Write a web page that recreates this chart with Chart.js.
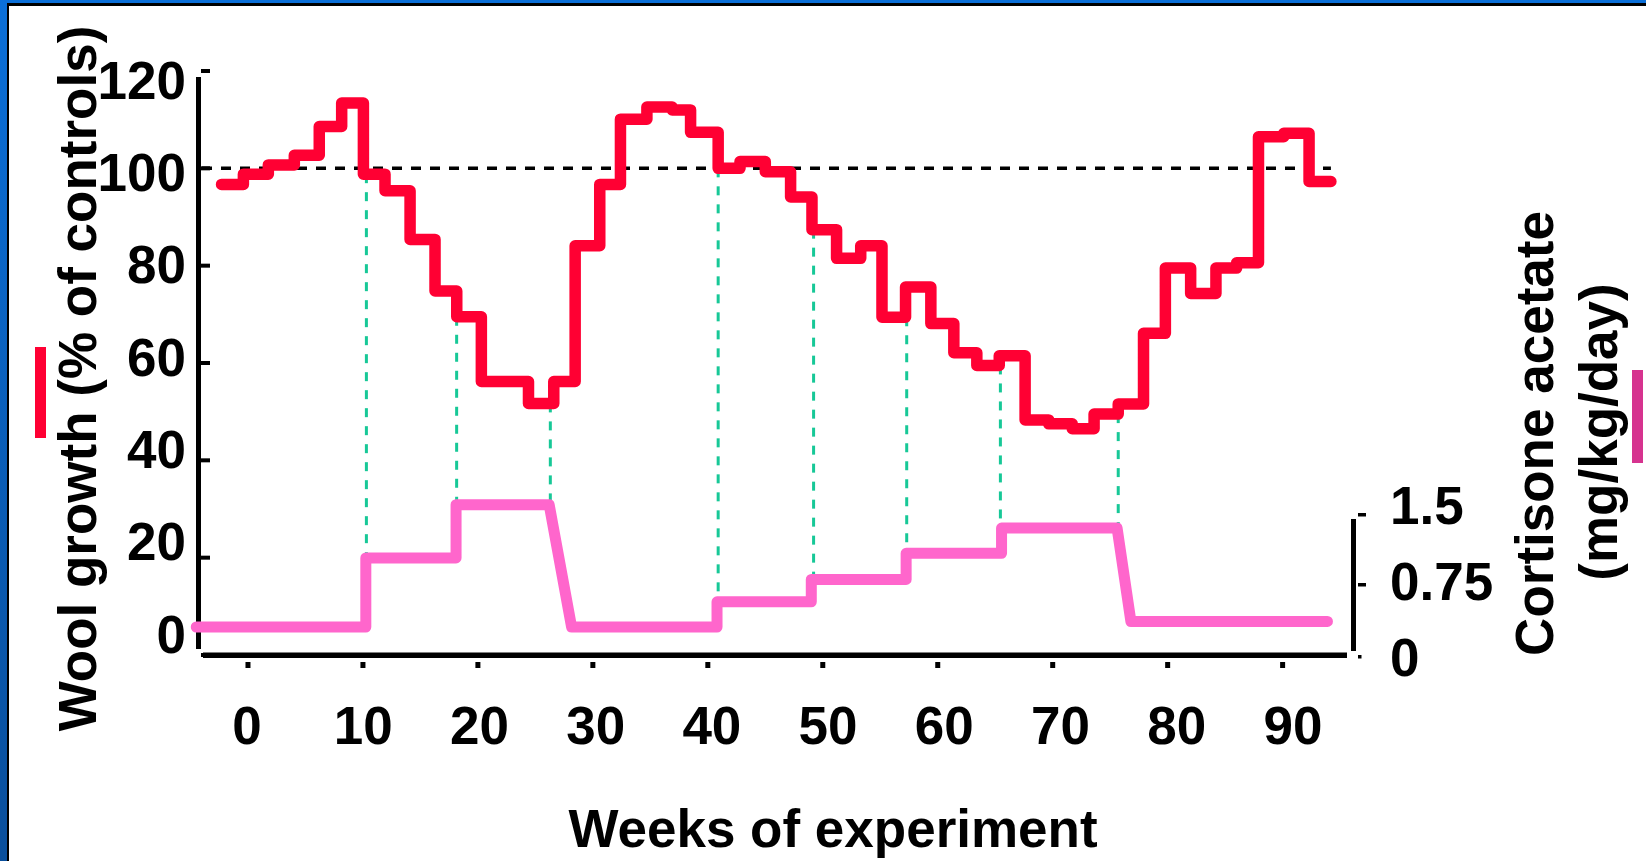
<!DOCTYPE html>
<html>
<head>
<meta charset="utf-8">
<script src="https://cdn.jsdelivr.net/npm/chart.js@4.4.1/dist/chart.umd.min.js"></script>
<style>
html,body{margin:0;padding:0;background:#fff;overflow:hidden}
canvas{display:block}
</style>
</head>
<body>
<canvas id="c" width="1646" height="861" style="width:1646px;height:861px"></canvas>
<script>
// ---------- data ----------
// Wool growth (% of controls): stepped line, value holds from its week until the next week
const redWeeks = [-2.3, -0.4, 1.77, 4.03, 6.2, 8.15, 10.04, 11.92, 14.1, 16.27, 18.16, 20.3, 24.4, 26.6, 28.46, 30.6, 32.4, 34.7, 36.9, 38.5, 40.9, 42.8, 45.0, 47.2, 49.06, 51.2, 53.3, 55.15, 57.2, 59.4, 61.4, 63.4, 65.35, 67.6, 69.65, 71.7, 73.6, 75.7, 77.9, 79.8, 82.0, 84.2, 86.0, 87.9, 90.1, 92.3, 94.2];
const redWool  = [96.7, 98.8, 100.7, 102.7, 108.6, 113.4, 98.8, 95.4, 85.4, 74.8, 69.5, 56.2, 51.7, 56.2, 84.1, 96.7, 110.1, 112.6, 112.0, 107.4, 100.0, 101.4, 99.3, 94.1, 87.4, 81.5, 84.1, 69.4, 75.6, 68.1, 62.1, 59.5, 61.5, 48.3, 47.5, 46.5, 49.5, 51.6, 66.1, 79.5, 74.3, 79.5, 80.6, 106.5, 107.2, 97.3, 97.3];

// Cortisone acetate dose (mg/kg/day)
const doseWeeks = [-4.5, 10.25, 10.25, 18.1, 18.1, 26.2, 28.15, 40.8, 40.8, 49.0, 49.0, 57.25, 57.25, 65.55, 65.55, 75.6, 76.8, 93.9];
const doseValues = [0.3, 0.3, 1.04, 1.04, 1.61, 1.61, 0.3, 0.3, 0.57, 0.57, 0.81, 0.81, 1.09, 1.09, 1.36, 1.36, 0.36, 0.36];

// control reference line (100 %)
const refWeeks = [-4, 94.2];
const refWool = [100, 100];

// dashed connectors between the two curves
const linkWeeks = [10.3, 18.15, 26.3, 40.9, 49.2, 57.3, 65.45, 75.7];
const linkWool  = [98.8, 69.5, 51.7, 100.0, 87.4, 69.4, 59.5, 49.5];
const linkDose  = [1.04, 1.61, 1.61, 0.57, 0.81, 1.09, 1.36, 1.36];

// ticks
const weekTicks = [0, 10, 20, 30, 40, 50, 60, 70, 80, 90];
const weekTickLabels = ['0', '10', '20', '30', '40', '50', '60', '70', '80', '90'];
const woolTicks = [0, 20, 40, 60, 80, 100, 120];
const woolTickLabels = ['0', '20', '40', '60', '80', '100', '120'];
const doseTicks = [0, 0.75, 1.5];
const doseTickLabels = ['0', '0.75', '1.5'];

// texts
const xTitle = 'Weeks of experiment';
const leftTitle = 'Wool growth (% of controls)';
const rightTitle1 = 'Cortisone acetate';
const rightTitle2 = '(mg/kg/day)';

// ---------- styling ----------
const FONT = "'Liberation Sans', Arial, Helvetica, sans-serif";
const RED = '#ff0033';
const PINK = '#ff66cc';
const MAGENTA = '#d6338f';
const GREEN = '#17c897';
const tickFont = { family: FONT, size: 53, weight: 'bold', lineHeight: 1.2 };

const zeroPad = s => { s.paddingLeft = 0; s.paddingRight = 0; s.paddingTop = 0; s.paddingBottom = 0; };

const deco = {
  id: 'deco',
  beforeDraw(chart) {
    const { ctx, width: W, height: H } = chart;
    ctx.save();
    ctx.fillStyle = '#ffffff';
    ctx.fillRect(0, 0, W, H);
    const g = ctx.createLinearGradient(0, 0, 0, H);
    g.addColorStop(0, '#0b6fd8');
    g.addColorStop(1, '#0a4f9c');
    ctx.fillStyle = g;
    ctx.fillRect(0, 0, 7, H);
    ctx.fillRect(0, 0, W, 3);
    ctx.fillStyle = '#000';
    ctx.fillRect(7, 3, 2, H - 3);
    ctx.fillRect(7, 3, W - 7, 3);
    ctx.restore();
  },
  beforeDatasetsDraw(chart) {
    const { ctx, chartArea: a, scales } = chart;
    const x = scales.x, y = scales.y, y2 = scales.y2;
    ctx.save();
    // green dashed connectors
    ctx.strokeStyle = GREEN;
    ctx.lineWidth = 3;
    ctx.setLineDash([9, 9]);
    linkWeeks.forEach((w, i) => {
      const px = x.getPixelForValue(w);
      ctx.beginPath();
      ctx.moveTo(px, y.getPixelForValue(linkWool[i]));
      ctx.lineTo(px, y2.getPixelForValue(linkDose[i]));
      ctx.stroke();
    });
    ctx.setLineDash([]);
    ctx.fillStyle = '#000';
    // left axis
    ctx.fillRect(a.left - 6, a.top + 6, 5, a.bottom - a.top - 12);
    woolTicks.forEach(v => {
      const py = y.getPixelForValue(v);
      ctx.fillRect(a.left - 1, py - 2, 9, 4);
    });
    // bottom axis
    ctx.fillRect(a.left + 1, a.bottom - 2.5, a.right - a.left - 1, 5.5);
    weekTicks.forEach(w => {
      const px = x.getPixelForValue(w);
      ctx.fillRect(px - 2.5, a.bottom + 7, 5, 6);
    });
    // right axis (only the 0 - 1.5 span)
    const r0 = y2.getPixelForValue(doseTicks[0]);
    const r1 = y2.getPixelForValue(doseTicks[doseTicks.length - 1]);
    ctx.fillRect(a.right + 4, r1 + 4, 5, r0 - r1 - 8);
    doseTicks.forEach((v, i) => {
      const py = y2.getPixelForValue(v);
      if (i === 0) ctx.fillRect(a.right + 11, py, 3.5, 3.5);
      else ctx.fillRect(a.right + 11, py - 2, 8, 3.5);
    });
    ctx.restore();
  },
  afterDraw(chart) {
    const { ctx } = chart;
    ctx.save();
    ctx.fillStyle = '#000';
    ctx.textAlign = 'center';
    ctx.textBaseline = 'alphabetic';
    ctx.font = 'bold 53px ' + FONT;
    const rot = (t, bx, cy) => {
      ctx.save();
      ctx.translate(bx, cy);
      ctx.rotate(-Math.PI / 2);
      ctx.fillText(t, 0, 0);
      ctx.restore();
    };
    rot(leftTitle, 96, 378.5);
    rot(rightTitle1, 1553, 433.5);
    rot(rightTitle2, 1617, 432);
    ctx.font = 'bold 53px ' + FONT;
    ctx.fillText(xTitle, 833, 847);
    // colour keys
    ctx.fillStyle = RED;
    ctx.fillRect(35, 347, 11, 91);
    ctx.fillStyle = MAGENTA;
    ctx.fillRect(1632, 370, 11, 93);
    ctx.restore();
  }
};

const toXY = (xs, ys) => xs.map((v, i) => ({ x: v, y: ys[i] }));

new Chart(document.getElementById('c'), {
  type: 'line',
  data: {
    datasets: [
      {
        label: 'Wool growth',
        data: toXY(redWeeks, redWool),
        xAxisID: 'x', yAxisID: 'y',
        stepped: 'before',
        borderColor: RED, borderWidth: 11.5,
        borderJoinStyle: 'round', borderCapStyle: 'round',
        pointRadius: 0, fill: false, clip: false, order: 0
      },
      {
        label: 'Cortisone acetate',
        data: toXY(doseWeeks, doseValues),
        xAxisID: 'x', yAxisID: 'y2',
        borderColor: PINK, borderWidth: 11,
        borderJoinStyle: 'round', borderCapStyle: 'round',
        pointRadius: 0, fill: false, clip: false, tension: 0, order: 1
      },
      {
        label: 'Controls',
        data: toXY(refWeeks, refWool),
        xAxisID: 'x', yAxisID: 'y',
        borderColor: '#000', borderWidth: 3.5, borderDash: [10, 9],
        pointRadius: 0, fill: false, clip: false, order: 2
      }
    ]
  },
  options: {
    responsive: false,
    animation: false,
    events: [],
    layout: { padding: { top: 71, left: 0, right: 0, bottom: 0 } },
    plugins: { legend: { display: false }, tooltip: { enabled: false }, title: { display: false } },
    scales: {
      x:  { type: 'linear', display: false, min: -4, max: 95.6 },
      y:  { type: 'linear', display: false, min: 0, max: 120 },
      y2: { type: 'linear', display: false, position: 'right', min: 0, max: 6.257 },
      xLab: {
        type: 'linear', position: 'bottom', min: -3.872, max: 94.65,
        grid: { display: false, drawTicks: false, tickLength: 0 },
        border: { display: false },
        ticks: { autoSkip: false, maxRotation: 0, minRotation: 0, padding: 43, color: '#000', font: tickFont,
                 callback: (v, i) => weekTickLabels[i] },
        afterBuildTicks: s => { s.ticks = weekTicks.map(v => ({ value: v })); },
        afterFit: s => { s.height = 206; zeroPad(s); }
      },
      yLab: {
        type: 'linear', position: 'left', min: -3.68, max: 122.81,
        grid: { display: false, drawTicks: false, tickLength: 0 },
        border: { display: false },
        ticks: { autoSkip: false, padding: 16, color: '#000', font: tickFont,
                 callback: (v, i) => woolTickLabels[i] },
        afterBuildTicks: s => { s.ticks = woolTicks.map(v => ({ value: v })); },
        afterFit: s => { s.width = 202; zeroPad(s); }
      },
      y2Lab: {
        type: 'linear', position: 'right', min: 0.0592, max: 5.822,
        grid: { display: false, drawTicks: false, tickLength: 0 },
        border: { display: false },
        ticks: { autoSkip: false, padding: 43, color: '#000', font: tickFont,
                 callback: (v, i) => doseTickLabels[i] },
        afterBuildTicks: s => { s.ticks = doseTicks.map(v => ({ value: v })); },
        afterFit: s => { s.width = 299; zeroPad(s); }
      }
    }
  },
  plugins: [deco]
});
</script>
</body>
</html>
